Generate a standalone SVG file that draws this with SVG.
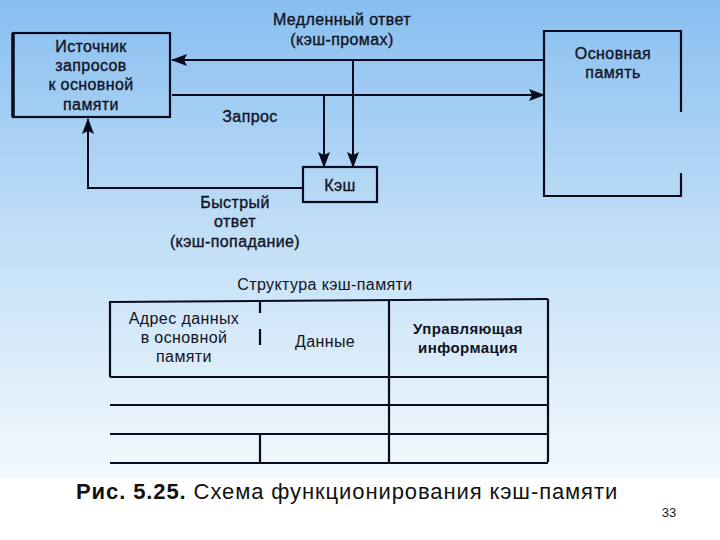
<svg xmlns="http://www.w3.org/2000/svg" width="720" height="540" viewBox="0 0 720 540">
  <defs>
    <linearGradient id="bg" x1="0" y1="0" x2="0" y2="1">
      <stop offset="0" stop-color="#88bff0"/>
      <stop offset="0.5" stop-color="#c2dff7"/>
      <stop offset="1" stop-color="#f2f9fd"/>
    </linearGradient>
    <marker id="arr" viewBox="0 0 16 12" refX="15" refY="6" markerWidth="16" markerHeight="12" markerUnits="userSpaceOnUse" orient="auto">
      <path d="M0,0 L16,6 L0,12 L3,6 Z" fill="#0a0a1e"/>
    </marker>
    <style>
      .t { font-family: "Liberation Sans", Arial, sans-serif; font-size: 16px; fill: #121222; stroke: #121222; stroke-width: 0.35; text-anchor: middle; letter-spacing: 0.4px; }
      .r { stroke-width: 0; }
      .b { font-weight: bold; stroke-width: 0; }
      .box { fill: none; stroke: #0a0a1e; stroke-width: 2.2; }
      .ln { fill: none; stroke: #0a0a1e; stroke-width: 2; }
      .tb { fill: none; stroke: #0a0a1e; stroke-width: 2.2; }
      .cap { font-family: "Liberation Sans", Arial, sans-serif; font-size: 22px; fill: #111; letter-spacing: 0.9px; }
    </style>
  </defs>

  <rect x="0" y="0" width="720" height="478" fill="url(#bg)"/>
  <rect x="0" y="478" width="720" height="62" fill="#ffffff"/>

  <g id="connectors">
    <path class="ln" d="M544,60 H172" marker-end="url(#arr)"/>
    <path class="ln" d="M172,95 H544" marker-end="url(#arr)"/>
    <path class="ln" d="M324,95 V167" marker-end="url(#arr)"/>
    <path class="ln" d="M353,60 V167" marker-end="url(#arr)"/>
    <path class="ln" d="M302,188 H88 V119" marker-end="url(#arr)"/>
  </g>

  <g id="labels">
    <text class="t" x="342" y="25">Медленный ответ</text>
    <text class="t" x="342" y="45">(кэш-промах)</text>
    <text class="t" x="250" y="122">Запрос</text>
    <text class="t" x="235" y="208">Быстрый</text>
    <text class="t" x="235" y="227">ответ</text>
    <text class="t" x="235" y="247">(кэш-попадание)</text>
  </g>

  <g id="source">
    <rect class="box" x="13" y="33" width="157" height="84"/>
    <path d="M13,33 V117" stroke="#0a0a1e" stroke-width="3.5"/>
    <text class="t" x="91" y="52">Источник</text>
    <text class="t" x="91" y="71">запросов</text>
    <text class="t" x="91" y="90">к основной</text>
    <text class="t" x="91" y="110">памяти</text>
  </g>

  <g id="main-memory">
    <path class="box" d="M681,112 V31 H544 V196 H681 V173"/>
    <text class="t" x="613" y="59">Основная</text>
    <text class="t" x="613" y="78">память</text>
  </g>

  <g id="cache">
    <rect class="box" x="303" y="167" width="74" height="35"/>
    <text class="t" x="340" y="191">Кэш</text>
  </g>

  <g id="cache-structure">
    <text class="t r" x="325" y="290">Структура кэш-памяти</text>
    <path class="tb" d="M110,302 L548,299"/>
    <path class="tb" d="M110,301 V377"/>
    <path class="tb" d="M548,299 V462"/>
    <path class="tb" d="M110,377 H548"/>
    <path class="tb" d="M110,405 H548"/>
    <path class="tb" d="M110,434 H548"/>
    <path class="tb" d="M110,463 H548"/>
    <path class="tb" d="M389,300 V462" stroke-width="1.8"/>
    <path class="tb" d="M260,301 V313 M260,329 V345 M260,434 V462" stroke-width="1.6"/>
    <text class="t r" x="184" y="324">Адрес данных</text>
    <text class="t r" x="184" y="343">в основной</text>
    <text class="t r" x="184" y="362">памяти</text>
    <text class="t r" x="325" y="347">Данные</text>
    <text class="t b" x="468" y="334" style="font-size:15px">Управляющая</text>
    <text class="t b" x="468" y="353" style="font-size:15px">информация</text>
  </g>

  <g id="caption">
    <text class="cap" x="76" y="499"><tspan font-weight="bold">Рис. 5.25.</tspan> Схема функционирования кэш-памяти</text>
    <text x="669" y="517" font-family="Liberation Sans, Arial, sans-serif" font-size="13" fill="#222" text-anchor="middle">33</text>
  </g>
</svg>
